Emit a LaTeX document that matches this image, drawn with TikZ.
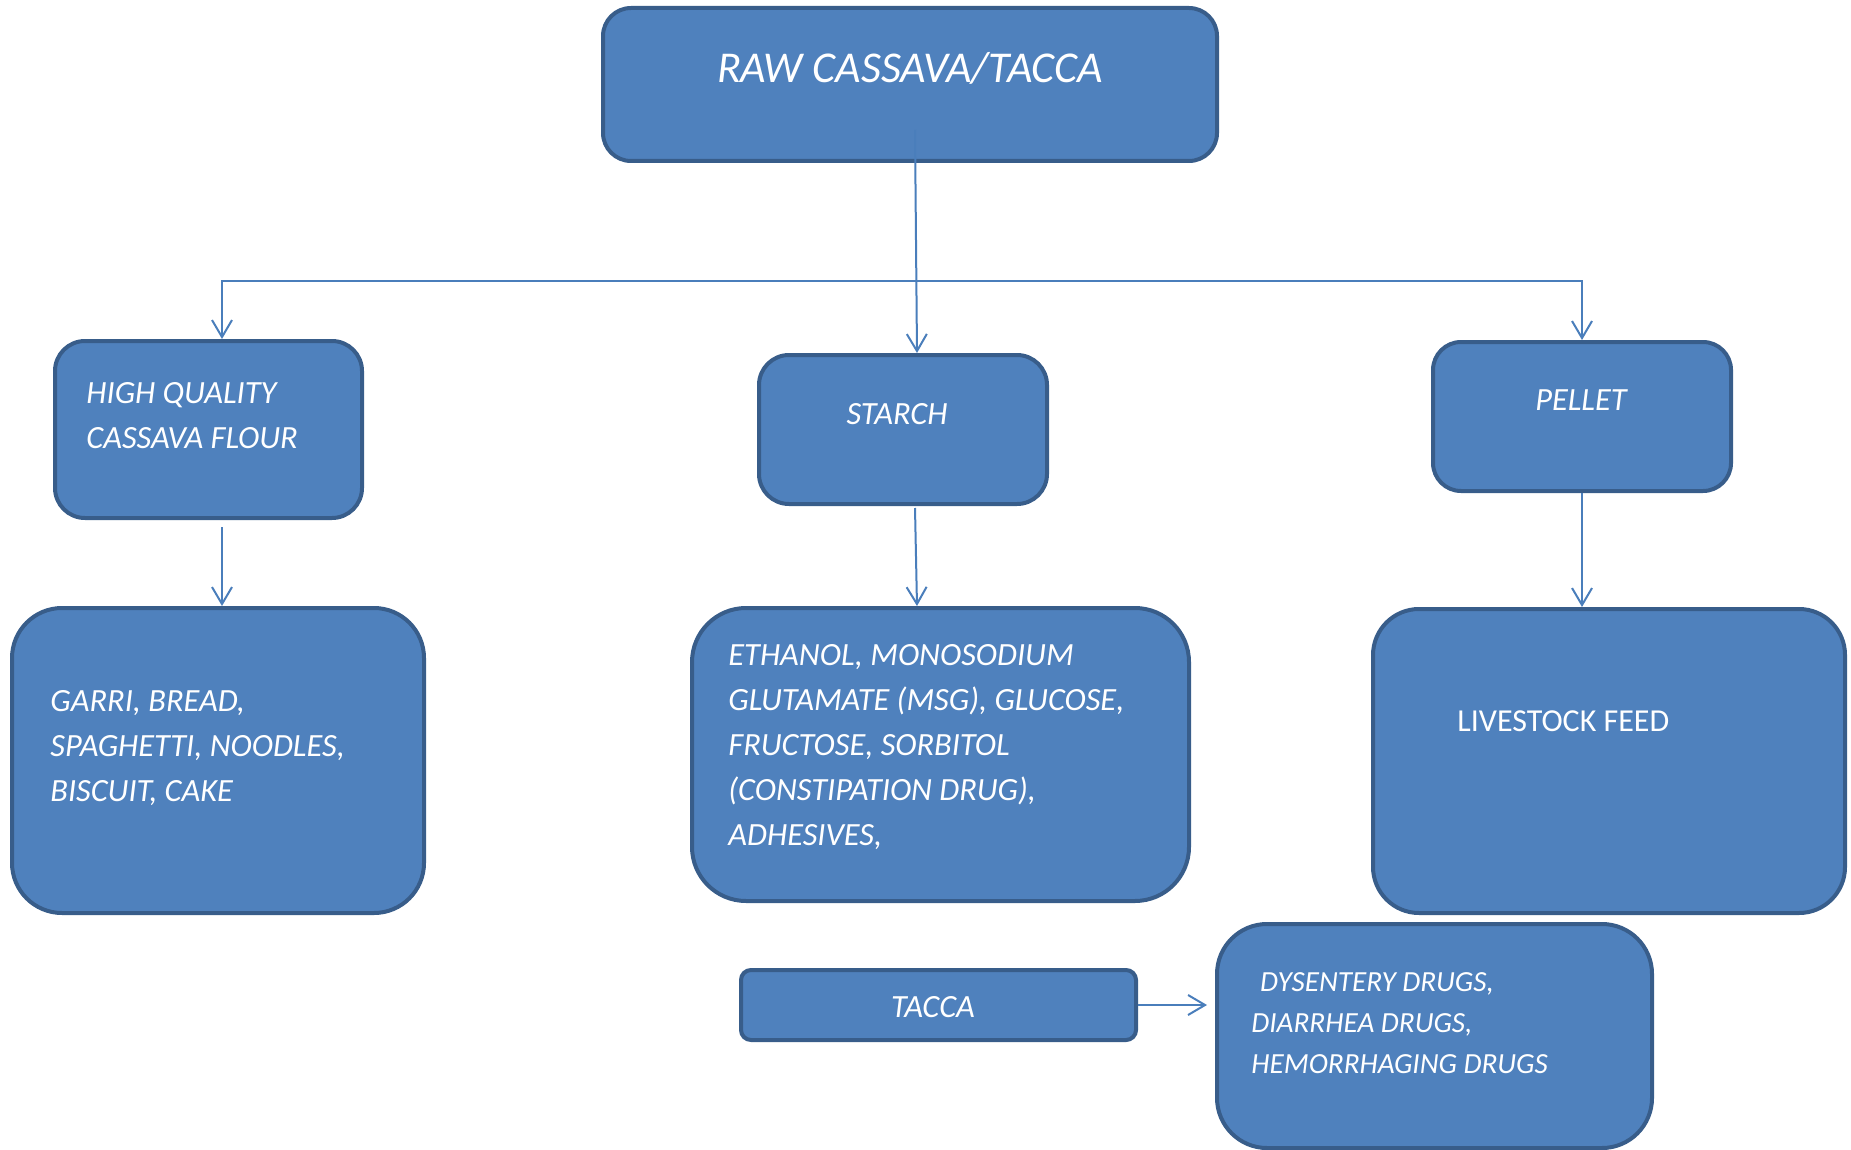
\documentclass[tikz,border=0pt]{standalone}
\usepackage{fontspec}
\setmainfont{Carlito}
\usetikzlibrary{arrows.meta,calc,positioning}
\definecolor{boxfill}{HTML}{4F81BD}
\definecolor{boxedge}{HTML}{385D8A}
\definecolor{flowline}{HTML}{4A7EBB}
\newcommand{\bodyfont}{\fontsize{16.2}{22.5}\selectfont}
\newcommand{\titlefont}{\fontsize{22}{26}\selectfont}
\newcommand{\drugfont}{\fontsize{14.6}{20.5}\selectfont}

\begin{document}
\begin{tikzpicture}[x=0.5pt, y=-0.5pt,
	procbox/.style={draw=boxedge, fill=boxfill, line width=2pt, inner sep=0pt},
	boxtext/.style={text=white, font=\bodyfont\itshape, inner sep=0pt, align=left},
	flow/.style={draw=flowline, line width=1pt, -{Straight Barb[length=8.5pt,width=10pt]}},
	flowboth/.style={draw=flowline, line width=1pt,
		{Straight Barb[length=8.5pt,width=10pt]}-{Straight Barb[length=8.5pt,width=10pt]}}]
	\useasboundingbox (0,0) rectangle (1851,1150);
	% Boxes:
	\node[procbox, rounded corners=14pt, minimum width=307pt, minimum height=76.5pt] (raw) at (910,84.5) {};
	\node[procbox, rounded corners=15pt, minimum width=153.5pt, minimum height=88.5pt] (hq) at (208.5,429.5) {};
	\node[procbox, rounded corners=15pt, minimum width=144pt, minimum height=74.5pt] (starch) at (903,429.5) {};
	\node[procbox, rounded corners=14pt, minimum width=149pt, minimum height=74.5pt] (pellet) at (1582,416.5) {};
	\node[procbox, rounded corners=25pt, minimum width=206pt, minimum height=152.5pt] (garri) at (218,760.5) {};
	\node[procbox, rounded corners=27pt, minimum width=248.5pt, minimum height=146.5pt] (ethanol) at (940.5,754.5) {};
	\node[procbox, rounded corners=23pt, minimum width=236pt, minimum height=152pt] (livestock) at (1609,761) {};
	\node[procbox, rounded corners=5pt, minimum width=197.5pt, minimum height=35pt] (tacca) at (938.5,1005) {};
	\node[procbox, rounded corners=25pt, minimum width=217.5pt, minimum height=112pt] (drugs) at (1434.5,1036) {};
	% Labels:
	\node[boxtext, font=\titlefont\itshape] (rawtxt) at (910,68) {RAW CASSAVA/TACCA};
	\node[boxtext, anchor=north west] (hqtxt) at (86,382) {HIGH QUALITY\\CASSAVA FLOUR};
	\node[boxtext] (starchtxt) at (897,414) {STARCH};
	\node[boxtext] (pellettxt) at (1581,400) {PELLET};
	\node[boxtext, anchor=north west] (garritxt) at (50,690)
		{GARRI, BREAD,\\SPAGHETTI, NOODLES,\\BISCUIT, CAKE};
	\node[boxtext, anchor=north west] (ethtxt) at (728,644)
		{ETHANOL, MONOSODIUM\\GLUTAMATE (MSG), GLUCOSE,\\FRUCTOSE, SORBITOL\\(CONSTIPATION DRUG),\\ADHESIVES,};
	\node[boxtext, font=\fontsize{16}{22.5}\selectfont, anchor=west] (livetxt) at (1457,721) {LIVESTOCK FEED};
	\node[boxtext] (taccatxt) at (933,1007) {TACCA};
	\node[boxtext, font=\drugfont\itshape, anchor=north west] (drugtxt) at (1251,972)
		{\hspace*{0.3em}DYSENTERY DRUGS,\\DIARRHEA DRUGS,\\HEMORRHAGING DRUGS};
	% Connectors:
	\coordinate (drugsin) at (1207,1005);
	\draw[flow] ($(raw.south)+(5,-33)$) -- ($(starch.north)+(14,0)$);
	\draw[flowboth] ($(hq.north)+(13.5,0)$) -- ++(0,-58) -| (pellet.north);
	\draw[flow] ($(hq.south)+(13.5,7)$) -- ($(garri.north)+(4,0)$);
	\draw[flow] ($(starch.south)+(12,2)$) -- ($(ethanol.north)+(-23.5,0)$);
	\draw[flow] (pellet.south) -- ($(livestock.north)+(-27,0)$);
	\draw[flow] (tacca.east) -- (drugsin);
\end{tikzpicture}
\end{document}
